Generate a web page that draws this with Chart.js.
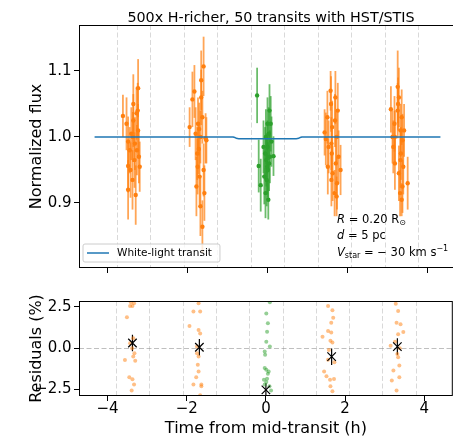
<!DOCTYPE html>
<html>
<head>
<meta charset="utf-8">
<script src="https://cdn.jsdelivr.net/npm/chart.js@4.4.1/dist/chart.umd.min.js"></script>
<style>
html, body { margin: 0; padding: 0; background: #fff; overflow: hidden; width: 453px; height: 436px; }
#top { position: absolute; left: 0; top: 0; }
#bottom { position: absolute; left: 0; top: 280px; }
</style>
</head>
<body>
<canvas id="top" width="460" height="280"></canvas>
<canvas id="bottom" width="460" height="165"></canvas>
<script>
// axis ticks and visit boundaries (hours from mid-transit)
var xTicks = [-4, -2, 0, 2, 4];
var fluxTicks = [0.9, 1.0, 1.1];
var resTicks = [-2.5, 0, 2.5];
var visitEdges = [-3.78, -2.94, -2.10, -1.26, -0.42, 0.42, 1.26, 2.10, 2.94, 3.78];

// white-light transit model
var modelTime = [-4.33, -0.86, -0.82, -0.78, -0.72, 0.72, 0.78, 0.82, 0.86, 4.33];
var modelFlux = [1.0, 1.0, 0.9993, 0.998, 0.9975, 0.9975, 0.998, 0.9993, 1.0, 1.0];

// flux per HST visit (time, flux, error)
var t1 = [-3.62, -3.53, -3.49, -3.49, -3.49, -3.45, -3.43, -3.41, -3.38, -3.37, -3.36, -3.36, -3.33, -3.32, -3.30, -3.28, -3.27, -3.25, -3.24, -3.24, -3.22, -3.20];
var f1 = [1.032, 1.020, 0.993, 0.956, 0.920, 0.980, 0.950, 1.005, 0.935, 1.000, 1.025, 1.050, 0.965, 0.990, 0.912, 1.036, 0.980, 1.040, 1.074, 1.010, 0.970, 0.955];
var e1 = [0.032, 0.040, 0.038, 0.040, 0.045, 0.035, 0.042, 0.040, 0.045, 0.038, 0.040, 0.045, 0.042, 0.040, 0.045, 0.040, 0.038, 0.042, 0.044, 0.040, 0.040, 0.038];

var t2 = [-1.95, -1.88, -1.83, -1.80, -1.78, -1.76, -1.75, -1.74, -1.72, -1.71, -1.70, -1.68, -1.68, -1.66, -1.66, -1.63, -1.63, -1.60, -1.60, -1.58, -1.55, -1.53];
var f2 = [1.015, 1.057, 1.069, 1.005, 0.925, 0.975, 0.955, 1.020, 0.982, 1.012, 0.940, 0.895, 1.000, 1.086, 1.060, 0.864, 1.030, 1.107, 0.950, 0.915, 0.998, 0.995];
var e2 = [0.030, 0.042, 0.040, 0.040, 0.045, 0.040, 0.042, 0.040, 0.038, 0.040, 0.042, 0.045, 0.040, 0.045, 0.042, 0.040, 0.040, 0.045, 0.040, 0.042, 0.038, 0.035];

var t3 = [-0.26, -0.22, -0.17, -0.10, -0.08, -0.06, -0.05, -0.04, -0.03, -0.02, -0.01, 0.00, 0.00, 0.01, 0.02, 0.03, 0.04, 0.05, 0.06, 0.08, 0.10, 0.15];
var f3 = [1.063, 0.956, 0.927, 0.985, 0.940, 0.975, 0.915, 1.000, 0.965, 0.935, 0.955, 1.020, 0.985, 0.950, 0.905, 1.005, 0.960, 1.040, 0.970, 1.020, 0.993, 0.971];
var e3 = [0.042, 0.040, 0.040, 0.040, 0.042, 0.040, 0.038, 0.042, 0.040, 0.040, 0.042, 0.040, 0.040, 0.042, 0.030, 0.040, 0.042, 0.040, 0.040, 0.042, 0.038, 0.030];

var t4 = [1.43, 1.46, 1.50, 1.51, 1.53, 1.58, 1.59, 1.60, 1.60, 1.61, 1.62, 1.63, 1.68, 1.69, 1.70, 1.71, 1.73, 1.73, 1.74, 1.76, 1.78, 1.83];
var f4 = [1.007, 0.997, 1.030, 0.955, 0.985, 1.070, 1.050, 0.935, 0.990, 0.975, 1.015, 0.945, 0.915, 1.025, 1.060, 0.960, 1.000, 0.910, 0.930, 1.040, 0.970, 0.950];
var e4 = [0.035, 0.040, 0.040, 0.042, 0.040, 0.030, 0.042, 0.040, 0.040, 0.042, 0.040, 0.042, 0.035, 0.040, 0.040, 0.042, 0.040, 0.030, 0.040, 0.042, 0.040, 0.038];

var t5 = [3.09, 3.13, 3.15, 3.18, 3.19, 3.19, 3.26, 3.26, 3.27, 3.29, 3.29, 3.32, 3.33, 3.33, 3.34, 3.36, 3.36, 3.38, 3.38, 3.40, 3.42, 3.51];
var f5 = [1.042, 1.000, 0.985, 1.020, 0.960, 1.000, 1.076, 1.040, 1.050, 0.945, 1.060, 0.915, 1.010, 0.965, 0.975, 1.030, 0.905, 0.925, 0.995, 0.955, 1.010, 0.930];
var e5 = [0.035, 0.040, 0.040, 0.042, 0.040, 0.040, 0.055, 0.042, 0.040, 0.042, 0.045, 0.035, 0.040, 0.042, 0.040, 0.042, 0.025, 0.040, 0.040, 0.042, 0.040, 0.040];

// residuals (%) per visit
var rt1 = [-3.56, -3.51, -3.45, -3.43, -3.43, -3.41, -3.39, -3.38, -3.37, -3.37, -3.35, -3.35, -3.33, -3.33, -3.32, -3.30];
var rv1 = [-0.71, 1.88, -1.76, 2.56, 0.30, 2.78, -2.55, 0.00, 2.55, -1.88, -0.50, 0.60, 2.72, -2.20, -0.30, -0.76];
var rt2 = [-1.93, -1.83, -1.83, -1.76, -1.74, -1.74, -1.72, -1.70, -1.70, -1.70, -1.70, -1.66, -1.66, -1.66, -1.63, -1.63];
var rv2 = [1.35, 2.22, -2.20, -1.75, 0.10, -0.30, -1.00, 2.72, 1.10, -0.50, -1.40, 2.22, 0.90, -2.85, -2.30, -2.20];
var rt3 = [-0.05, -0.03, -0.03, -0.03, -0.02, 0.01, 0.01, 0.01, 0.01, 0.03, 0.03, 0.05, 0.05, 0.07, 0.09, 0.10, 0.10, 0.13];
var rv3 = [-1.90, -0.20, -1.20, -2.20, -0.40, 2.10, 0.40, -1.30, -2.05, 1.00, -1.85, 1.52, -1.55, -1.40, -2.30, 2.78, 0.10, -2.55];
var rt4 = [1.43, 1.47, 1.53, 1.57, 1.57, 1.57, 1.59, 1.62, 1.63, 1.63, 1.65, 1.65, 1.68, 1.68, 1.68, 1.70, 1.72, 1.73];
var rv4 = [0.70, -1.40, -1.70, 2.55, 1.05, -0.70, -0.10, -1.90, 0.45, -2.30, 1.55, 0.95, 2.30, 0.35, -2.60, 1.85, -1.86, -0.85];
var rt5 = [3.15, 3.18, 3.22, 3.26, 3.28, 3.30, 3.30, 3.32, 3.34, 3.34, 3.34, 3.37, 3.37, 3.38, 3.40, 3.47];
var rv5 = [0.15, -1.95, -1.35, 0.40, 2.70, 1.55, -2.55, -0.35, 2.25, 0.85, -0.55, -1.05, -1.75, 0.00, 1.45, 0.98];

// binned residual per visit
var binTime = [-3.37, -1.68, 0.00, 1.66, 3.32];
var binRes = [0.32, 0.06, -2.52, -0.51, 0.10];
var binErr = [0.50, 0.50, 0.40, 0.50, 0.50];

var ORANGE = '#ff7f0e', GREEN = '#2ca02c', BLUE = '#1f77b4';

Chart.defaults.font.family = '"DejaVu Sans"';
Chart.defaults.color = '#000';

function pts(xs, ys) {
    return xs.map(function(x, i) { return { x: x, y: ys[i] }; });
}
function minusFmt(v, d) {
    var s = Math.abs(v).toFixed(d);
    return v < 0 ? '\u2212' + s : s;
}

// dashed visit edges, optional zero line, error bars, frame
var guides = {
    id: 'guides',
    beforeDatasetsDraw: function(chart, args, opts) {
        var ctx = chart.ctx, a = chart.chartArea, xs = chart.scales.x, ys = chart.scales.y;
        ctx.save();
        ctx.beginPath();
        ctx.rect(a.left, a.top, a.right - a.left, a.bottom - a.top);
        ctx.clip();
        ctx.lineWidth = 1;
        ctx.setLineDash([5, 2.5]);
        ctx.strokeStyle = 'rgba(128,128,128,0.3)';
        visitEdges.forEach(function(v) {
            var px = Math.round(xs.getPixelForValue(v)) + 0.5;
            ctx.beginPath(); ctx.moveTo(px, a.top); ctx.lineTo(px, a.bottom); ctx.stroke();
        });
        if (opts.zeroLine) {
            ctx.strokeStyle = 'rgba(128,128,128,0.5)';
            var py = Math.round(ys.getPixelForValue(0)) + 0.5;
            ctx.beginPath(); ctx.moveTo(a.left, py); ctx.lineTo(a.right, py); ctx.stroke();
        }
        ctx.setLineDash([]);
        chart.data.datasets.forEach(function(ds) {
            if (!ds.yErr) return;
            ctx.strokeStyle = ds.errColor;
            ctx.lineWidth = ds.errWidth;
            ds.data.forEach(function(p, j) {
                var px = xs.getPixelForValue(p.x);
                ctx.beginPath();
                ctx.moveTo(px, ys.getPixelForValue(p.y - ds.yErr[j]));
                ctx.lineTo(px, ys.getPixelForValue(p.y + ds.yErr[j]));
                ctx.stroke();
            });
        });
        ctx.restore();
    },
    afterDraw: function(chart) {
        var ctx = chart.ctx, a = chart.chartArea;
        ctx.save();
        ctx.strokeStyle = '#000';
        ctx.lineWidth = 1;
        ctx.strokeRect(a.left + 0.5, a.top + 0.5, a.right - a.left - 1, a.bottom - a.top - 1);
        ctx.restore();
    }
};

// title, legend box and parameter text of the top panel
var topText = {
    id: 'topText',
    afterDraw: function(chart) {
        var ctx = chart.ctx, a = chart.chartArea;
        ctx.save();
        ctx.fillStyle = '#000';
        ctx.textAlign = 'center';
        ctx.textBaseline = 'alphabetic';
        ctx.font = '14.3px "DejaVu Sans"';
        ctx.fillText('500x H-richer, 50 transits with HST/STIS', a.left + 192, a.top - 3);

        // legend
        var label = 'White-light transit';
        ctx.font = '10.5px "DejaVu Sans"';
        var tw = ctx.measureText(label).width;
        var bx = a.left + 4, by = a.bottom - 24, bw = tw + 42, bh = 18, r = 2;
        ctx.beginPath();
        ctx.moveTo(bx + r, by);
        ctx.arcTo(bx + bw, by, bx + bw, by + bh, r);
        ctx.arcTo(bx + bw, by + bh, bx, by + bh, r);
        ctx.arcTo(bx, by + bh, bx, by, r);
        ctx.arcTo(bx, by, bx + bw, by, r);
        ctx.closePath();
        ctx.fillStyle = 'rgba(255,255,255,0.8)';
        ctx.fill();
        ctx.strokeStyle = '#cccccc';
        ctx.lineWidth = 1;
        ctx.stroke();
        ctx.strokeStyle = BLUE;
        ctx.lineWidth = 1.5;
        ctx.beginPath(); ctx.moveTo(bx + 4, by + 9); ctx.lineTo(bx + 26, by + 9); ctx.stroke();
        ctx.fillStyle = '#000';
        ctx.textAlign = 'left';
        ctx.textBaseline = 'middle';
        ctx.fillText(label, bx + 34, by + 9.5);

        // parameters
        ctx.textBaseline = 'alphabetic';
        var x0 = a.left + 258;
        function line(parts, y) {
            var cx = x0;
            parts.forEach(function(p) {
                ctx.font = (p.it ? 'italic ' : '') + (p.s || 11.5) + 'px "DejaVu Sans"';
                ctx.fillText(p.t, cx, y + (p.dy || 0));
                cx += ctx.measureText(p.t).width;
            });
        }
        line([{ t: 'R', it: true }, { t: ' = 0.20 R' }, { t: '\u2299', s: 8, dy: 2 }], 222.5);
        line([{ t: 'd', it: true }, { t: ' = 5 pc' }], 239);
        line([{ t: 'V', it: true }, { t: 'star', s: 8, dy: 2.5 }, { t: ' = \u2212 30 km s' }, { t: '\u22121', s: 8, dy: -4.5 }], 255.5);
        ctx.restore();
    }
};

function visitSet(t, f, e, color) {
    return {
        data: pts(t, f), yErr: e, errColor: color === ORANGE ? 'rgba(255,127,14,0.7)' : 'rgba(44,160,44,0.7)', errWidth: 1.8,
        backgroundColor: color, borderWidth: 0, pointRadius: 2.2, order: 1
    };
}
function resSet(t, v, color) {
    return { data: pts(t, v), backgroundColor: color, borderWidth: 0, pointRadius: 2, order: 2 };
}

function yAxis(min, max, ticks, text, fmt) {
    return {
        type: 'linear', min: min, max: max,
        afterBuildTicks: function(s) { s.ticks = ticks.map(function(v) { return { value: v }; }); },
        afterFit: function(s) { s.width = 79; },
        ticks: { font: { size: 15 }, padding: 2.5, callback: fmt },
        grid: { drawOnChartArea: false, tickLength: 5, tickColor: '#000', tickWidth: 1 },
        border: { display: false },
        title: { display: true, text: text, font: { size: 16 }, padding: { top: 27.5, bottom: 0 } }
    };
}

new Chart(document.getElementById('top'), {
    type: 'scatter',
    data: {
        datasets: [
            { type: 'line', label: 'White-light transit', data: pts(modelTime, modelFlux), borderColor: BLUE, borderWidth: 1.5, pointRadius: 0, fill: false, order: 0 },
            visitSet(t1, f1, e1, ORANGE),
            visitSet(t2, f2, e2, ORANGE),
            visitSet(t3, f3, e3, GREEN),
            visitSet(t4, f4, e4, ORANGE),
            visitSet(t5, f5, e5, ORANGE)
        ]
    },
    options: {
        responsive: false, animation: false, events: [],
        layout: { padding: { top: 25, right: 3, bottom: 0, left: 0 } },
        plugins: { legend: { display: false }, tooltip: { enabled: false }, guides: { zeroLine: false } },
        scales: {
            x: {
                type: 'linear', min: -4.72, max: 4.72,
                afterBuildTicks: function(s) { s.ticks = xTicks.map(function(v) { return { value: v }; }); },
                afterFit: function(s) { s.height = 12; },
                ticks: { display: false },
                grid: { drawOnChartArea: false, tickLength: 5, tickColor: '#000', tickWidth: 1 },
                border: { display: false }
            },
            y: yAxis(0.8015, 1.1697, fluxTicks, 'Normalized flux', function(v) { return v.toFixed(1); })
        }
    },
    plugins: [guides, topText]
});

new Chart(document.getElementById('bottom'), {
    type: 'scatter',
    data: {
        datasets: [
            resSet(rt1, rv1, 'rgba(255,127,14,0.5)'),
            resSet(rt2, rv2, 'rgba(255,127,14,0.5)'),
            resSet(rt3, rv3, 'rgba(44,160,44,0.5)'),
            resSet(rt4, rv4, 'rgba(255,127,14,0.5)'),
            resSet(rt5, rv5, 'rgba(255,127,14,0.5)'),
            {
                data: pts(binTime, binRes), yErr: binErr, errColor: '#000', errWidth: 1.2,
                pointStyle: 'crossRot', pointRadius: 6, borderColor: '#000', borderWidth: 1.2, order: 1
            }
        ]
    },
    options: {
        responsive: false, animation: false, events: [],
        layout: { padding: { top: 21, right: 3, bottom: 0, left: 0 } },
        plugins: { legend: { display: false }, tooltip: { enabled: false }, guides: { zeroLine: true } },
        scales: {
            x: {
                type: 'linear', min: -4.72, max: 4.72,
                afterBuildTicks: function(s) { s.ticks = xTicks.map(function(v) { return { value: v }; }); },
                afterFit: function(s) { s.height = 49; },
                ticks: { font: { size: 15, lineHeight: 1.1 }, padding: 0, maxRotation: 0, callback: function(v) { return minusFmt(v, 0); } },
                grid: { drawOnChartArea: false, tickLength: 5, tickColor: '#000', tickWidth: 1 },
                border: { display: false },
                title: { display: true, text: 'Time from mid-transit (h)', font: { size: 16 }, padding: { top: 0, bottom: 7 } }
            },
            y: yAxis(-2.89, 2.86, resTicks, 'Residuals (%)', function(v) { return minusFmt(v, 1); })
        }
    },
    plugins: [guides]
});
</script>
</body>
</html>
